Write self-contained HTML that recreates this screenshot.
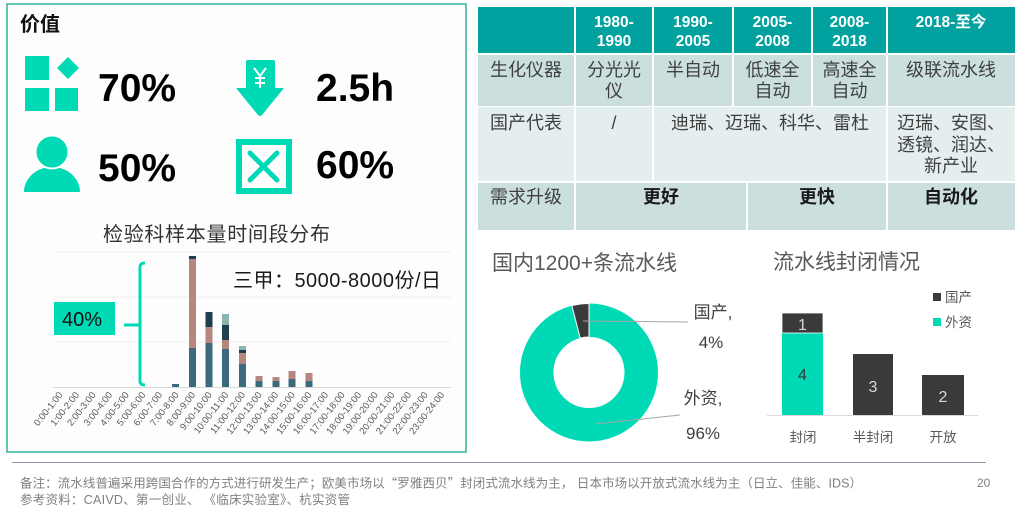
<!DOCTYPE html>
<html><head><meta charset="utf-8"><style>
html,body{margin:0;padding:0;background:#fff;}
svg{display:block;font-family:"Liberation Sans","Noto Sans CJK SC",sans-serif;}
</style></head><body>
<svg width="1024" height="515" viewBox="0 0 1024 515" xmlns="http://www.w3.org/2000/svg">
<rect x="0" y="0" width="1024" height="515" fill="#fff"/>
<!-- Left panel -->
<rect x="7" y="4" width="459" height="448" fill="#fdfdfd" stroke="#2eb398" stroke-width="1.5"/>
<text x="20" y="31" font-size="20" font-weight="bold" fill="#111">价值</text>
<!-- grid icon -->
<g fill="#00d9b5">
<rect x="25" y="56" width="24" height="24"/>
<polygon points="68,57 79,68 68,79 57,68"/>
<rect x="25" y="88" width="24" height="23"/>
<rect x="55" y="88" width="23" height="23"/>
</g>
<text x="98" y="101" font-size="39" font-weight="bold" fill="#000">70%</text>
<!-- arrow icon -->
<g fill="#00d9b5">
<rect x="246" y="60" width="29" height="30" rx="2"/>
<path d="M236 88 L284 88 L262 115 Q260 117 258 115 Z"/>
</g>
<g stroke="#fff" stroke-width="2" fill="none">
<path d="M254 68 L260 76 L266 68"/>
<path d="M260 76 L260 88"/>
<path d="M255 78 L265 78"/>
<path d="M255 83 L265 83"/>
</g>
<text x="316" y="101" font-size="39" font-weight="bold" fill="#000">2.5h</text>
<!-- person icon -->
<path d="M24 192 A28 25 0 0 1 80 192 Z" fill="#00d9b5"/>
<circle cx="52" cy="152" r="16.5" fill="#00d9b5" stroke="#fdfdfd" stroke-width="2"/>
<text x="98" y="181" font-size="39" font-weight="bold" fill="#000">50%</text>
<!-- box x icon -->
<rect x="239" y="142" width="50" height="49" fill="none" stroke="#00d9b5" stroke-width="6"/>
<g stroke="#00d9b5" stroke-width="5" stroke-linecap="round">
<line x1="250" y1="153" x2="277" y2="180"/>
<line x1="277" y1="153" x2="250" y2="180"/>
</g>
<text x="316" y="178" font-size="39" font-weight="bold" fill="#000">60%</text>

<!-- left chart -->
<text x="103" y="241" font-size="20" fill="#333" textLength="227" lengthAdjust="spacing">检验科样本量时间段分布</text>
<g stroke="#f0f0f0" stroke-width="1">
<line x1="54" y1="252" x2="451" y2="252"/>
<line x1="54" y1="297" x2="451" y2="297"/>
<line x1="54" y1="342" x2="451" y2="342"/>
</g>
<line x1="53" y1="387.5" x2="451" y2="387.5" stroke="#d9d9d9" stroke-width="1"/>
<!-- bars -->
<g>
<rect x="172" y="384" width="7" height="3" fill="#3b6a7e"/>
<rect x="189" y="348" width="7" height="39" fill="#3b6a7e"/>
<rect x="189" y="259" width="7" height="89" fill="#b5877e"/>
<rect x="189" y="256" width="7" height="3" fill="#1f3f4c"/>
<rect x="205.5" y="343" width="7" height="44" fill="#3b6a7e"/>
<rect x="205.5" y="327" width="7" height="16" fill="#b5877e"/>
<rect x="205.5" y="312" width="7" height="15" fill="#1f3f4c"/>
<rect x="222" y="349" width="7" height="38" fill="#3b6a7e"/>
<rect x="222" y="340" width="7" height="9" fill="#b5877e"/>
<rect x="222" y="325" width="7" height="15" fill="#1f3f4c"/>
<rect x="222" y="314" width="7" height="11" fill="#8db5b0"/>
<rect x="239" y="364" width="7" height="23" fill="#3b6a7e"/>
<rect x="239" y="353" width="7" height="11" fill="#b5877e"/>
<rect x="239" y="350" width="7" height="3" fill="#1f3f4c"/>
<rect x="239" y="346" width="7" height="4" fill="#8db5b0"/>
<rect x="255.5" y="381" width="7" height="6" fill="#3b6a7e"/>
<rect x="255.5" y="376" width="7" height="5" fill="#b5877e"/>
<rect x="272.5" y="381" width="7" height="6" fill="#3b6a7e"/>
<rect x="272.5" y="377" width="7" height="4" fill="#b5877e"/>
<rect x="288.5" y="379" width="7" height="8" fill="#3b6a7e"/>
<rect x="288.5" y="371" width="7" height="8" fill="#b5877e"/>
<rect x="305.5" y="381" width="7" height="6" fill="#3b6a7e"/>
<rect x="305.5" y="373" width="7" height="8" fill="#b5877e"/>
</g>
<!-- x labels -->
<g font-size="9.5" fill="#595959" text-anchor="end">
<text transform="translate(63,395) rotate(-52)">0:00-1:00</text>
<text transform="translate(79.6,395) rotate(-52)">1:00-2:00</text>
<text transform="translate(96.2,395) rotate(-52)">2:00-3:00</text>
<text transform="translate(112.8,395) rotate(-52)">3:00-4:00</text>
<text transform="translate(129.4,395) rotate(-52)">4:00-5:00</text>
<text transform="translate(146,395) rotate(-52)">5:00-6:00</text>
<text transform="translate(162.6,395) rotate(-52)">6:00-7:00</text>
<text transform="translate(179.2,395) rotate(-52)">7:00-8:00</text>
<text transform="translate(195.8,395) rotate(-52)">8:00-9:00</text>
<text transform="translate(212.4,395) rotate(-52)">9:00-10:00</text>
<text transform="translate(229,395) rotate(-52)">10:00-11:00</text>
<text transform="translate(245.6,395) rotate(-52)">11:00-12:00</text>
<text transform="translate(262.2,395) rotate(-52)">12:00-13:00</text>
<text transform="translate(278.8,395) rotate(-52)">13:00-14:00</text>
<text transform="translate(295.4,395) rotate(-52)">14:00-15:00</text>
<text transform="translate(312,395) rotate(-52)">15:00-16:00</text>
<text transform="translate(328.6,395) rotate(-52)">16:00-17:00</text>
<text transform="translate(345.2,395) rotate(-52)">17:00-18:00</text>
<text transform="translate(361.8,395) rotate(-52)">18:00-19:00</text>
<text transform="translate(378.4,395) rotate(-52)">19:00-20:00</text>
<text transform="translate(395,395) rotate(-52)">20:00-21:00</text>
<text transform="translate(411.6,395) rotate(-52)">21:00-22:00</text>
<text transform="translate(428.2,395) rotate(-52)">22:00-23:00</text>
<text transform="translate(444.8,395) rotate(-52)">23:00-24:00</text>
</g>
<text x="233" y="287" font-size="20" fill="#1a1a1a" textLength="208" lengthAdjust="spacing">三甲：5000-8000份/日</text>
<!-- bracket -->
<path d="M145 263 Q140 263 140 267 L140 381 Q140 385 145 385" fill="none" stroke="#00d9b5" stroke-width="3"/>
<line x1="124" y1="325" x2="140" y2="325" stroke="#00d9b5" stroke-width="3"/>
<rect x="54" y="302" width="61" height="33" fill="#00d9b5"/>
<text x="62" y="326" font-size="20" fill="#111">40%</text>

<!-- Table -->
<g>
<rect x="478" y="7" width="537" height="46" fill="#00a19e"/>
<rect x="478" y="55" width="537" height="51" fill="#ccdfdf"/>
<rect x="478" y="107" width="537" height="74" fill="#e4eeee"/>
<rect x="478" y="183" width="537" height="47" fill="#ccdfdf"/>
<g stroke="#fff" stroke-width="2">
<line x1="575" y1="7" x2="575" y2="230"/>
<line x1="653" y1="7" x2="653" y2="181"/>
<line x1="733" y1="7" x2="733" y2="106"/>
<line x1="812" y1="7" x2="812" y2="106"/>
<line x1="887" y1="7" x2="887" y2="230"/>
<line x1="747" y1="183" x2="747" y2="230"/>
</g>
<g font-size="15.5" font-weight="bold" fill="#fff" text-anchor="middle">
<text x="614" y="27">1980-</text><text x="614" y="46">1990</text>
<text x="693" y="27">1990-</text><text x="693" y="46">2005</text>
<text x="772.5" y="27">2005-</text><text x="772.5" y="46">2008</text>
<text x="849.5" y="27">2008-</text><text x="849.5" y="46">2018</text>
<text x="951" y="27">2018-至今</text>
</g>
<g font-size="18" fill="#404040">
<text x="490" y="76">生化仪器</text>
<text x="490" y="129">国产代表</text>
<text x="490" y="203">需求升级</text>
</g>
<g font-size="18" fill="#404040" text-anchor="middle">
<text x="614" y="76">分光光</text><text x="614" y="97">仪</text>
<text x="693" y="76">半自动</text>
<text x="772.5" y="76">低速全</text><text x="772.5" y="97">自动</text>
<text x="849.5" y="76">高速全</text><text x="849.5" y="97">自动</text>
<text x="951" y="76">级联流水线</text>
<text x="614" y="129">/</text>
<text x="770" y="129">迪瑞、迈瑞、科华、雷杜</text>
<text x="951" y="129">迈瑞、安图、</text>
<text x="951" y="151">透镜、润达、</text>
<text x="951" y="172">新产业</text>
</g>
<g font-size="18" font-weight="bold" fill="#1a1a1a" text-anchor="middle">
<text x="661" y="203">更好</text>
<text x="817" y="203">更快</text>
<text x="951" y="203">自动化</text>
</g>
</g>

<!-- Donut -->
<text x="492" y="270" font-size="21" fill="#595959">国内1200+条流水线</text>
<circle cx="589" cy="372.5" r="52.25" fill="none" stroke="#00d9b5" stroke-width="33.5"/>
<path d="M571.84 305.67 A69 69 0 0 1 589 303.5 L589 337 A35.5 35.5 0 0 0 580.17 338.11 Z" fill="#3a3a3a" stroke="#fff" stroke-width="1"/>
<line x1="583" y1="321" x2="688" y2="322" stroke="#a6a6a6" stroke-width="1"/>
<line x1="595" y1="424" x2="680" y2="415" stroke="#a6a6a6" stroke-width="1"/>
<g font-size="17" fill="#404040" text-anchor="middle">
<text x="713" y="318">国产,</text>
<text x="711" y="348">4%</text>
<text x="703" y="404">外资,</text>
<text x="703" y="439">96%</text>
</g>

<!-- Bar chart -->
<text x="773" y="269" font-size="21" fill="#595959">流水线封闭情况</text>
<rect x="782" y="333" width="41" height="82" fill="#00d9b5"/>
<rect x="782" y="313" width="41" height="20" fill="#3a3a3a" stroke="#fff" stroke-width="0.8"/>
<rect x="853" y="354" width="40" height="61" fill="#3a3a3a"/>
<rect x="922" y="375" width="42" height="40" fill="#3a3a3a"/>
<line x1="767" y1="415.5" x2="978" y2="415.5" stroke="#d9d9d9" stroke-width="1"/>
<g font-size="16" text-anchor="middle">
<text x="802.5" y="330" fill="#d9d9d9">1</text>
<text x="802.5" y="380" fill="#333">4</text>
<text x="873" y="392" fill="#d9d9d9">3</text>
<text x="943" y="402" fill="#d9d9d9">2</text>
</g>
<g font-size="13.5" fill="#595959" text-anchor="middle">
<text x="803" y="442">封闭</text>
<text x="873" y="442">半封闭</text>
<text x="943" y="442">开放</text>
</g>
<rect x="933" y="293" width="8" height="8" fill="#3a3a3a"/>
<rect x="933" y="318" width="8" height="8" fill="#00d9b5"/>
<g font-size="13.5" fill="#595959">
<text x="945" y="302">国产</text>
<text x="945" y="327">外资</text>
</g>

<!-- Footer -->
<line x1="12" y1="462.5" x2="986" y2="462.5" stroke="#8c96a8" stroke-width="1"/>
<g font-size="12.5" fill="#808080">
<text x="20" y="487.5" textLength="842" lengthAdjust="spacing">备注：流水线普遍采用跨国合作的方式进行研发生产；欧美市场以<tspan font-family="Noto Sans CJK SC, sans-serif">“</tspan>罗雅西贝<tspan font-family="Noto Sans CJK SC, sans-serif">”</tspan>封闭式流水线为主， 日本市场以开放式流水线为主（日立、佳能、IDS）</text>
<text x="20" y="504" textLength="330" lengthAdjust="spacing">参考资料：CAIVD、第一创业、 《临床实验室》、杭实资管</text>
</g>
<text x="977" y="487" font-size="12" fill="#808080">20</text>
</svg>
</body></html>
